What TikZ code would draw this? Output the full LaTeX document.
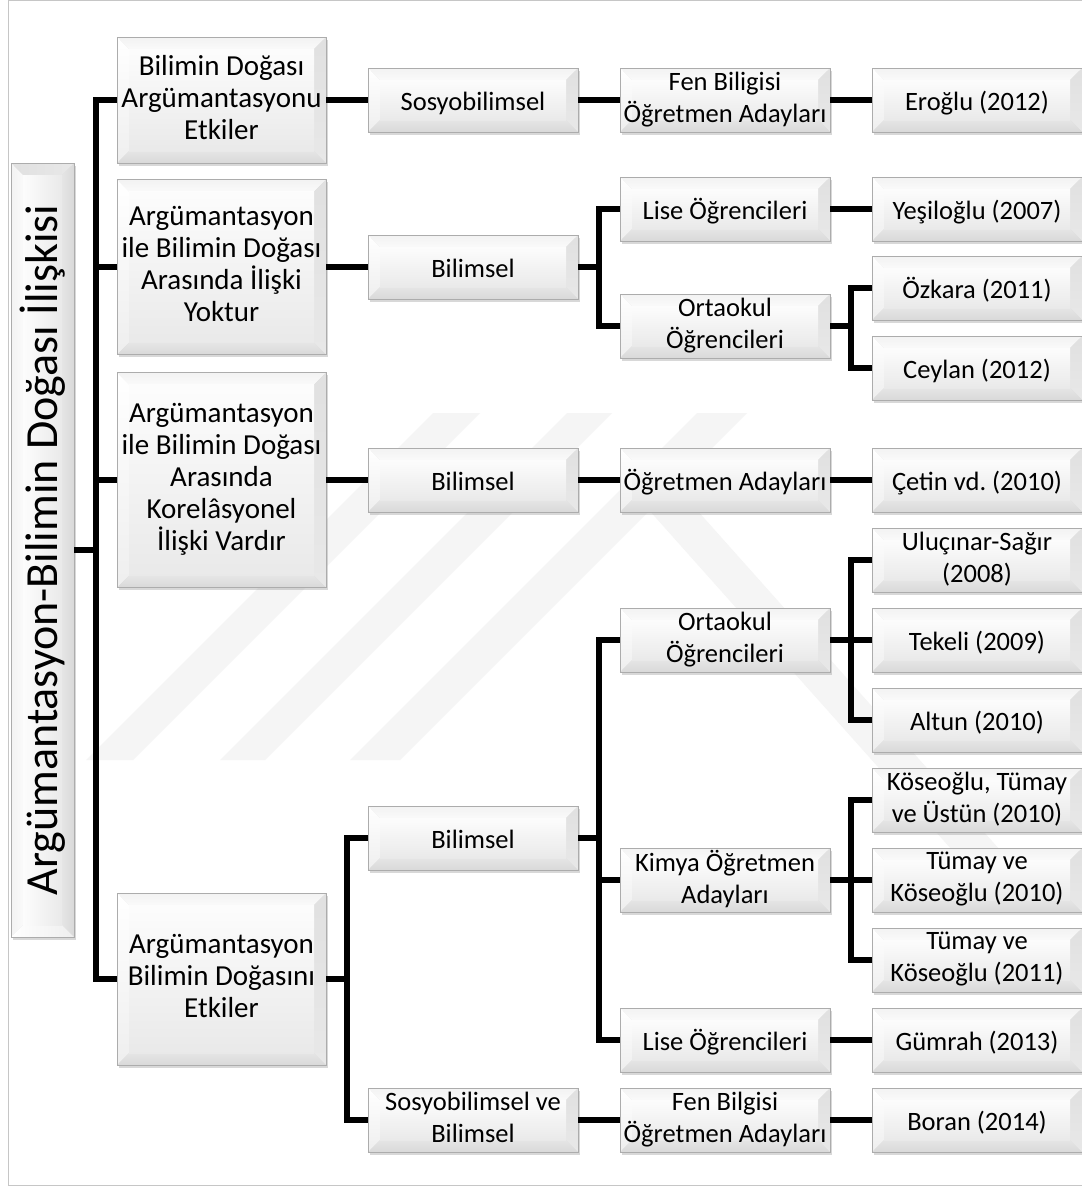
\documentclass[tikz,border=0pt]{standalone}
\usepackage{fontspec}
\setmainfont{Carlito}
\usetikzlibrary{calc,shadows}

\newcommand\bvw{12pt}
% line strut that sits high, so text rides at the optical centre
\newcommand\lowstrut{\rule[-6pt]{0pt}{32pt}}
\tikzset{
  % colours of the four bevel faces and the raised face
  bvtop/.style={top color=gray!10, bottom color=gray!4},
  bvleft/.style={top color=white, bottom color=gray!13},
  bvright/.style={top color=gray!24, bottom color=gray!18},
  bvbottom/.style={top color=gray!20, bottom color=gray!30},
  bvface/.style={top color=gray!2, bottom color=gray!17},
  bevel/.style={
    draw=gray!65, line width=0.8pt, inner sep=0pt, align=center,
    execute at begin node=\lowstrut, execute at end node=\lowstrut,
    drop shadow={shadow xshift=1.5pt, shadow yshift=-2.5pt, opacity=0.3},
    path picture={
      \coordinate (q1) at (path picture bounding box.south west);
      \coordinate (q2) at (path picture bounding box.south east);
      \coordinate (q3) at (path picture bounding box.north east);
      \coordinate (q4) at (path picture bounding box.north west);
      \coordinate (i1) at ($(q1)+(\bvw,\bvw)$);
      \coordinate (i2) at ($(q2)+(-\bvw,\bvw)$);
      \coordinate (i3) at ($(q3)+(-\bvw,-\bvw)$);
      \coordinate (i4) at ($(q4)+(\bvw,-\bvw)$);
      \shade[bvtop] (q4) -- (q3) -- (i3) -- (i4) -- cycle;
      \shade[bvleft] (q4) -- (i4) -- (i1) -- (q1) -- cycle;
      \shade[bvright] (q3) -- (q2) -- (i2) -- (i3) -- cycle;
      \shade[bvbottom] (q1) -- (q2) -- (i2) -- (i1) -- cycle;
      \shade[bvface] (i1) rectangle (i3);
    }},
  lvA/.style={bevel, minimum width=209pt, font=\fontsize{29}{32}\selectfont},
  lvB/.style={bevel, minimum width=210pt, minimum height=64pt,
    font=\fontsize{26.5}{32}\selectfont},
  conn/.style={line width=6pt, line join=miter},
  wmark/.style={fill=black!4},
}

\begin{document}
\begin{tikzpicture}[x=1pt, y=-1pt]
\useasboundingbox (0,0) rectangle (1082,1187);
\clip (0,0) rectangle (1082,1187);
\fill[white] (0,0) rectangle (1082,1187);

% faint background stripes
\fill[wmark] (433,413) -- (480,413) -- (133,760) -- (86,760) -- cycle;
\fill[wmark] (567,413) -- (612,413) -- (265,760) -- (220,760) -- cycle;
\fill[wmark] (697,413) -- (747,413) -- (400,760) -- (350,760) -- cycle;
\fill[wmark] (640,500) -- (688,500) -- (1000,850) -- (952,850) -- cycle;

% frame
\draw[gray!45, line width=1pt] (8.5,0.7) rectangle (1095,1185.5);

% root
\node[bevel, minimum width=63pt, minimum height=774pt,
  bvtop/.style={left color=gray!24, right color=gray!18},
  bvleft/.style={left color=gray!10, right color=gray!4},
  bvright/.style={left color=gray!20, right color=gray!30},
  bvbottom/.style={left color=white, right color=gray!13},
  bvface/.style={left color=gray!2, right color=gray!17},
  execute at begin node={}, execute at end node={}] (root) at (42.5,550) {};
\node[rotate=90, font=\fontsize{46}{50}\selectfont] (roottxt) at (root.center)
  {Argümantasyon-Bilimin Doğası İlişkisi};

% first level
\node[lvA, minimum height=126pt] (a1) at (221.5,100) {Bilimin Doğası\\Argümantasyonu\\Etkiler};
\node[lvA, minimum height=175pt] (a2) at (221.5,267) {Argümantasyon\\ile Bilimin Doğası\\Arasında İlişki\\Yoktur};
\node[lvA, minimum height=215pt] (a3) at (221.5,480) {Argümantasyon\\ile Bilimin Doğası\\Arasında\\Korelâsyonel\\İlişki Vardır};
\node[lvA, minimum height=172pt] (a4) at (221.5,979) {Argümantasyon\\Bilimin Doğasını\\Etkiler};

% second level
\node[lvB] (b1) at (473,100) {Sosyobilimsel};
\node[lvB] (b2) at (473,267) {Bilimsel};
\node[lvB] (b3) at (473,480) {Bilimsel};
\node[lvB] (b4) at (473,838) {Bilimsel};
\node[lvB] (b5) at (473,1120) {Sosyobilimsel ve\\Bilimsel};

% third level
\node[lvB] (c1) at (725,100) {Fen Biligisi\\Öğretmen Adayları};
\node[lvB] (c2) at (725,209) {Lise Öğrencileri};
\node[lvB] (c3) at (725,326) {Ortaokul\\Öğrencileri};
\node[lvB] (c4) at (725,480) {Öğretmen Adayları};
\node[lvB] (c5) at (725,640) {Ortaokul\\Öğrencileri};
\node[lvB] (c6) at (725,880) {Kimya Öğretmen\\Adayları};
\node[lvB] (c7) at (725,1040) {Lise Öğrencileri};
\node[lvB] (c8) at (725,1120) {Fen Bilgisi\\Öğretmen Adayları};

% studies
\node[lvB] (d1) at (977,100) {Eroğlu (2012)};
\node[lvB] (d2) at (977,209) {Yeşiloğlu (2007)};
\node[lvB] (d3) at (977,288) {Özkara (2011)};
\node[lvB] (d4) at (977,368) {Ceylan (2012)};
\node[lvB] (d5) at (977,480) {Çetin vd.\ (2010)};
\node[lvB] (d6) at (977,560) {Uluçınar-Sağır\\(2008)};
\node[lvB] (d7) at (977,640) {Tekeli (2009)};
\node[lvB] (d8) at (977,720) {Altun (2010)};
\node[lvB] (d9) at (977,800) {Köseoğlu, Tümay\\ve Üstün (2010)};
\node[lvB] (d10) at (977,880) {Tümay ve\\Köseoğlu (2010)};
\node[lvB] (d11) at (977,960) {Tümay ve\\Köseoğlu (2011)};
\node[lvB] (d12) at (977,1040) {Gümrah (2013)};
\node[lvB] (d13) at (977,1120) {Boran (2014)};

% connectors
\foreach \c in {a1,a2,a3,a4} \draw[conn] (root.east) -- ++(21.5,0) |- (\c.west);
\draw[conn] (a1.east) -- (b1.west);
\draw[conn] (b1.east) -- (c1.west);
\draw[conn] (c1.east) -- (d1.west);
\draw[conn] (a2.east) -- (b2.west);
\foreach \c in {c2,c3} \draw[conn] (b2.east) -- ++(21,0) |- (\c.west);
\draw[conn] (c2.east) -- (d2.west);
\foreach \c in {d3,d4} \draw[conn] (c3.east) -- ++(21,0) |- (\c.west);
\draw[conn] (a3.east) -- (b3.west);
\draw[conn] (b3.east) -- (c4.west);
\draw[conn] (c4.east) -- (d5.west);
\foreach \c in {b4,b5} \draw[conn] (a4.east) -- ++(21,0) |- (\c.west);
\foreach \c in {c5,c6,c7} \draw[conn] (b4.east) -- ++(21,0) |- (\c.west);
\foreach \c in {d6,d7,d8} \draw[conn] (c5.east) -- ++(21,0) |- (\c.west);
\foreach \c in {d9,d10,d11} \draw[conn] (c6.east) -- ++(21,0) |- (\c.west);
\draw[conn] (c7.east) -- (d12.west);
\draw[conn] (b5.east) -- (c8.west);
\draw[conn] (c8.east) -- (d13.west);
\end{tikzpicture}
\end{document}
